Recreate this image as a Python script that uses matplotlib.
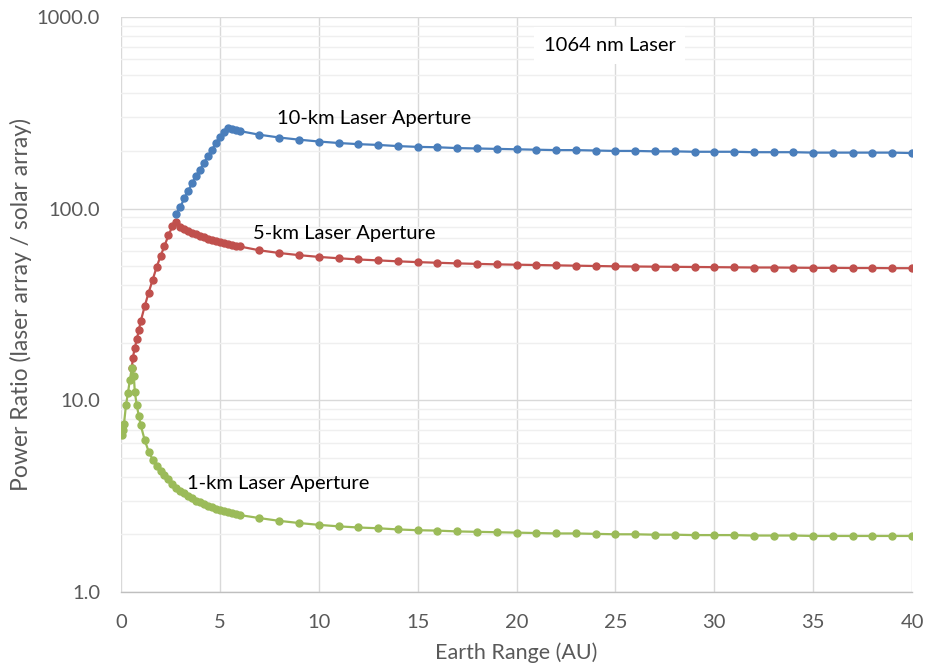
import matplotlib
matplotlib.use("Agg")
import matplotlib.pyplot as plt
from matplotlib.ticker import FixedLocator, FuncFormatter, LogLocator, NullFormatter

# ---------------- data ----------------
x_green = [0.05, 0.1, 0.15, 0.25, 0.35, 0.45, 0.55, 0.65, 0.7, 0.8, 0.9, 1.0,
           1.2, 1.4, 1.6, 1.8, 2.0, 2.2, 2.4, 2.6, 2.8, 3.0, 3.2, 3.4, 3.6, 3.8,
           4.0, 4.2, 4.4, 4.6, 4.8, 5.0, 5.2, 5.4, 5.6, 5.8, 6.0,
           7, 8, 9, 10, 11, 12, 13, 14, 15, 16, 17, 18, 19, 20, 21, 22, 23, 24,
           25, 26, 27, 28, 29, 30, 31, 32, 33, 34, 35, 36, 37, 38, 39, 40]
y_green = [6.6, 7.0, 7.5, 9.4, 10.9, 12.8, 14.8, 13.4, 11.0, 9.4, 8.3, 7.4,
           6.2, 5.4, 4.9, 4.55, 4.3, 4.1, 3.9, 3.65, 3.5, 3.38, 3.27, 3.17, 3.08, 3.0,
           2.93, 2.87, 2.81, 2.76, 2.71, 2.67, 2.63, 2.60, 2.57, 2.55, 2.52,
           2.43, 2.35, 2.29, 2.24, 2.20, 2.17, 2.15, 2.12, 2.10, 2.09, 2.07, 2.06, 2.05,
           2.04, 2.03, 2.02, 2.02, 2.01, 2.00, 2.00, 1.99, 1.99, 1.98, 1.98, 1.98, 1.97,
           1.97, 1.97, 1.96, 1.96, 1.96, 1.96, 1.96, 1.96]

x_red = [0.55, 0.6, 0.7, 0.8, 0.9, 1.0, 1.2, 1.4, 1.6, 1.8, 2.0, 2.2, 2.4, 2.6, 2.8,
         3.0, 3.2, 3.4, 3.6, 3.8, 4.0, 4.2, 4.4, 4.6, 4.8, 5.0, 5.2, 5.4, 5.6, 5.8, 6.0,
         7, 8, 9, 10, 11, 12, 13, 14, 15, 16, 17, 18, 19, 20, 21, 22, 23, 24,
         25, 26, 27, 28, 29, 30, 31, 32, 33, 34, 35, 36, 37, 38, 39, 40]
y_red = [14.8, 16.7, 18.8, 20.8, 23.2, 25.9, 31.0, 36.5, 42.5, 49.5, 56.5, 64.0, 72.5, 81.0, 85.6,
         80.5, 78.4, 76.5, 74.8, 73.3, 72.0, 70.8, 69.7, 68.7, 67.7, 66.9, 66.1, 65.4, 64.7, 64.1, 63.5,
         60.6, 58.7, 57.2, 56.0, 55.1, 54.3, 53.7, 53.1, 52.6, 52.2, 51.8, 51.5, 51.2,
         51.0, 50.8, 50.6, 50.4, 50.2, 50.0, 49.9, 49.8, 49.7, 49.6, 49.5, 49.4, 49.3,
         49.3, 49.2, 49.1, 49.1, 49.0, 49.0, 48.9, 48.9]

x_blue = [2.8, 3.0, 3.2, 3.4, 3.6, 3.8, 4.0, 4.2, 4.4, 4.6, 4.8, 5.0, 5.2, 5.4, 5.6, 5.8, 6.0,
          7, 8, 9, 10, 11, 12, 13, 14, 15, 16, 17, 18, 19, 20, 21, 22, 23, 24,
          25, 26, 27, 28, 29, 30, 31, 32, 33, 34, 35, 36, 37, 38, 39, 40]
y_blue = [94, 102, 113, 124, 136, 148, 160, 174, 188, 203, 220, 237, 251, 264, 260, 257, 254,
          243, 235, 229, 224, 220, 217, 215, 212, 210, 209, 207, 206, 205, 204, 203, 202,
          202, 201, 200, 200, 199, 199, 198, 198, 198, 197, 197, 197, 196, 196, 196, 196,
          196, 195]

x_ticks = [0, 5, 10, 15, 20, 25, 30, 35, 40]
y_ticks = [1, 10, 100, 1000]

labels = ["10-km Laser Aperture", "5-km Laser Aperture", "1-km Laser Aperture"]
title_box = "1064 nm Laser"
x_label = "Earth Range (AU)"
y_label = "Power Ratio (laser array / solar array)"

# ---------------- styling ----------------
FONT = ["Lato", "DejaVu Sans"]
plt.rcParams["font.family"] = FONT
c_blue, c_red, c_green = "#4a7ebb", "#c0504d", "#9bbb59"
tick_col = "#595959"

fig = plt.figure(figsize=(9.25, 6.68), dpi=100)
ax = fig.add_axes([0.1308, 0.1138, 0.986 - 0.1308, 0.9746 - 0.1138])
ax.set_yscale("log")
ax.set_xlim(0, 40)
ax.set_ylim(1, 1000)

ax.xaxis.set_major_locator(FixedLocator(x_ticks))
ax.yaxis.set_major_locator(FixedLocator(y_ticks))
ax.yaxis.set_minor_locator(LogLocator(base=10, subs=range(2, 10)))
ax.yaxis.set_minor_formatter(NullFormatter())
ax.yaxis.set_major_formatter(FuncFormatter(lambda v, p: f"{v:.1f}"))

ax.grid(True, which="major", axis="both", color="#d9d9d9", lw=1.0)
ax.grid(True, which="minor", axis="y", color="#efefef", lw=1.0)
ax.set_axisbelow(True)
for s in ["left", "right", "top"]:
    ax.spines[s].set_visible(False)
ax.spines["bottom"].set_color("#bfbfbf")
ax.spines["bottom"].set_linewidth(1.0)

ax.tick_params(axis="both", which="both", length=0, labelsize=14.5, colors=tick_col)
ax.tick_params(axis="x", pad=16)
ax.tick_params(axis="y", pad=15)

ms = 5.0
ax.plot(x_red, y_red, "-o", color=c_red, lw=1.6, ms=ms, zorder=3)
ax.plot(x_blue, y_blue, "-o", color=c_blue, lw=1.6, ms=ms, zorder=4)
ax.plot(x_green, y_green, "-o", color=c_green, lw=1.6, ms=ms, zorder=5)

ax.text(7.9, 294, labels[0], fontsize=14.5, color="#000000", va="center", ha="left")
ax.text(6.67, 74, labels[1], fontsize=14.5, color="#000000", va="center", ha="left")
ax.text(3.34, 3.68, labels[2], fontsize=14.5, color="#000000", va="center", ha="left")
ax.text(24.7, 711, title_box, fontsize=14.5, color="#000000", va="center", ha="center",
        bbox=dict(facecolor="white", edgecolor="none", pad=7), zorder=6)

ax.set_xlabel(x_label, fontsize=15.5, color=tick_col, labelpad=8)
ax.set_ylabel(y_label, fontsize=16.5, color=tick_col)
ax.yaxis.set_label_coords(-0.112, 0.5)

fig.savefig("out.png", dpi=100)
